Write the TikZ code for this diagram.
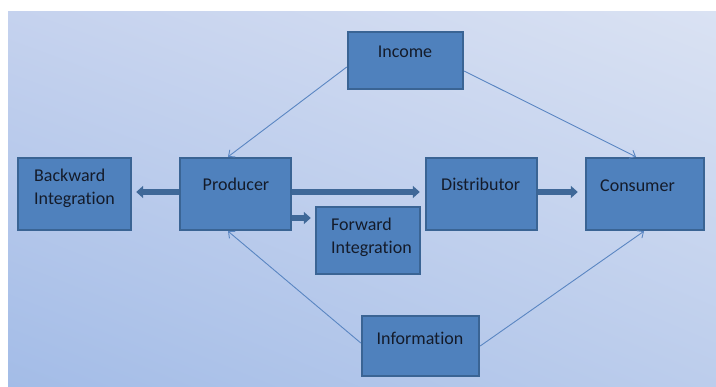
\documentclass[tikz,border=0pt]{standalone}
\usepackage{fontspec}
\setmainfont{Carlito}[Ligatures=NoCommon]
\usetikzlibrary{arrows.meta,calc,shadings}

\definecolor{boxfill}{HTML}{4F81BD}
\definecolor{boxedge}{HTML}{3A6494}
\definecolor{flowblue}{HTML}{3F6898}
\definecolor{linkblue}{HTML}{5A86C2}
\definecolor{labelink}{HTML}{141B2A}
\definecolor{bgUL}{HTML}{C5D2EE}
\definecolor{bgUR}{HTML}{DAE2F3}
\definecolor{bgLL}{HTML}{A3BCE7}
\definecolor{bgLR}{HTML}{BCCDEC}

\tikzset{
  block/.style={draw=boxedge, fill=boxfill, line width=2.4pt, inner sep=0pt},
  caption/.style={text=labelink, font=\fontsize{18}{22.5}\selectfont, inner sep=0pt},
  flow/.style={draw=flowblue, line width=5.5pt, -{Triangle[length=7pt,width=12pt]}},
  link/.style={draw=linkblue, line width=0.9pt, -{Straight Barb[length=5pt,width=9pt]}}
}

\begin{document}
\begin{tikzpicture}[x=1pt,y=-1pt]
  \useasboundingbox (0,0) rectangle (716,387);
  % page background with soft diagonal gradient
  \shade[upper left=bgUL, upper right=bgUR, lower left=bgLL, lower right=bgLR]
    (8,12) rectangle (716,387);

  % boxes
  \node[block, minimum width=115pt, minimum height=57pt] (inc)  at (405.5,60.5) {};
  \node[block, minimum width=113pt, minimum height=72pt] (back) at (74.5,194) {};
  \node[block, minimum width=111pt, minimum height=72pt] (prod) at (235.5,194) {};
  \node[block, minimum width=111pt, minimum height=72pt] (dist) at (481.5,194) {};
  \node[block, minimum width=118pt, minimum height=72pt] (cons) at (645,194) {};
  \node[block, minimum width=104pt, minimum height=67pt] (fwd)  at (368,240.5) {};
  \node[block, minimum width=117pt, minimum height=60pt] (info) at (420.5,346) {};

  % box captions
  \node[caption] (incT) at (405,52) {Income};
  \node[caption, anchor=west, align=left] (backT) at (34,188.5) {Backward\\Integration};
  \node[caption] (prodT) at (236,184) {Producer};
  \node[caption, anchor=west] (distT) at (441,184) {Distributor};
  \node[caption, anchor=west] (consT) at (600,186) {Consumer};
  \node[caption, anchor=west, align=left] (fwdT) at (331,237.5) {Forward\\Integration};
  \node[caption] (infoT) at (420,338) {Information};

  % main flows
  \draw[flow, shorten >=4pt] ([yshift=2pt]prod.west) -- ([yshift=2pt]back.east);
  \draw[flow, shorten >=5pt] ([yshift=2pt]prod.east) -- ([yshift=2pt]dist.west);
  \draw[flow, shorten >=7pt] ([yshift=2pt]dist.east) -- ([yshift=2pt]cons.west);
  \draw[flow, shorten >=4pt] ([yshift=-24pt]prod.east) -- ([yshift=-24pt]prod.east -| fwd.west);

  % income and information links
  \draw[link] ([yshift=-6.5pt]inc.west) -- ([xshift=-7.5pt]prod.north);
  \draw[link] ([yshift=-10.5pt]inc.east) -- ([xshift=-9pt]cons.north);
  \draw[link] ([yshift=3pt]info.west) -- ([xshift=-7.5pt]prod.south);
  \draw[link] (info.east) -- ([xshift=-1pt]cons.south);
\end{tikzpicture}
\end{document}
